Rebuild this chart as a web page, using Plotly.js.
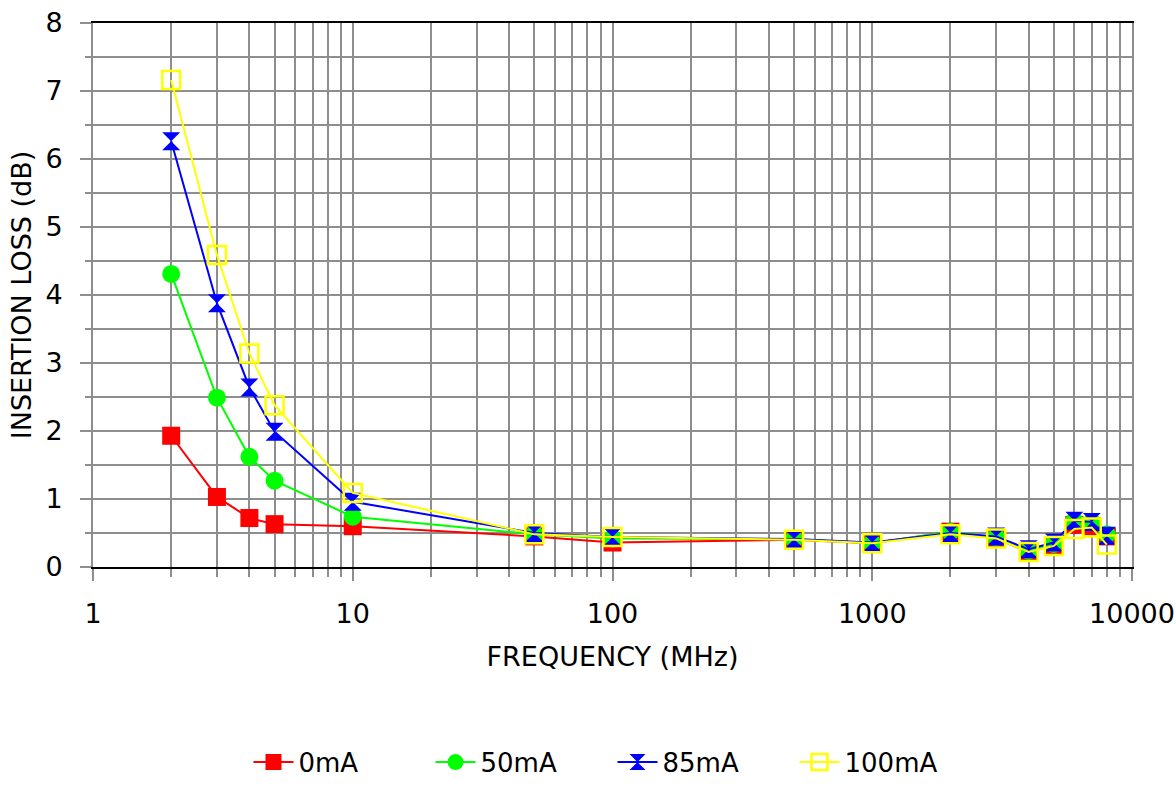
<!DOCTYPE html>
<html>
<head>
<meta charset="utf-8">
<script src="https://cdn.plot.ly/plotly-3.0.1.min.js"></script>
<style>html,body{margin:0;padding:0;background:#fff}#chart{width:1176px;height:787px}</style>
</head>
<body>
<div id="chart"></div>
<script>
// Frequency points (MHz)
var freq = [2, 3, 4, 5, 10, 50, 100, 500, 1000, 2000, 3000, 4000, 5000, 6000, 7000, 8000];
// Insertion loss (dB) per bias current
var loss0mA   = [1.93, 1.03, 0.72, 0.63, 0.60, 0.45, 0.36, 0.40, 0.35, 0.52, 0.42, 0.22, 0.32, 0.62, 0.60, 0.45];
var loss50mA  = [4.31, 2.49, 1.62, 1.27, 0.74, 0.48, 0.42, 0.41, 0.35, 0.52, 0.44, 0.24, 0.34, 0.68, 0.66, 0.48];
var loss85mA  = [6.26, 3.88, 2.64, 1.99, 0.96, 0.50, 0.44, 0.41, 0.36, 0.50, 0.45, 0.26, 0.36, 0.68, 0.66, 0.46];
var loss100mA = [7.16, 4.59, 3.14, 2.38, 1.09, 0.48, 0.44, 0.40, 0.35, 0.48, 0.42, 0.22, 0.31, 0.56, 0.58, 0.33];
var seriesNames = ['0mA', '50mA', '85mA', '100mA'];
var xTickVals = [1, 10, 100, 1000, 10000];
var xTickText = ['1', '10', '100', '1000', '10000'];
var yTickVals = [0, 1, 2, 3, 4, 5, 6, 7, 8];

var FONT = 'DejaVu Sans, Verdana, sans-serif';
var GRID = '#8e8e8e';

function tr(y, name, color, symbol, open) {
  return {
    x: freq, y: y, name: name, type: 'scatter', mode: 'lines+markers',
    line: {color: color, width: 2},
    marker: {
      symbol: symbol, size: 18,
      color: color,
      line: {color: color, width: open ? 2.5 : 0}
    }
  };
}

var data = [
  tr(loss0mA, seriesNames[0], '#ff0000', 'square', false),
  tr(loss50mA, seriesNames[1], '#00ff00', 'circle', false),
  tr(loss85mA, seriesNames[2], '#0000ff', 'hourglass', false),
  tr(loss100mA, seriesNames[3], '#ffff00', 'square-open', true)
];

var layout = {
  width: 1176, height: 787,
  margin: {l: 93, r: 44, t: 23, b: 220, autoexpand: false},
  paper_bgcolor: '#fff', plot_bgcolor: '#fff',
  font: {family: FONT, size: 27, color: '#000'},
  showlegend: true,
  legend: {
    orientation: 'h', x: 0.5, xanchor: 'center', y: -0.402, yanchor: 'bottom',
    font: {family: FONT, size: 26, color: '#000'},
    entrywidth: 127, itemwidth: 40, traceorder: 'normal'
  },
  xaxis: {
    type: 'log', range: [0, 4], automargin: false,
    tickmode: 'array', tickvals: xTickVals, ticktext: xTickText,
    ticks: 'outside', ticklen: 12, tickcolor: GRID, tickwidth: 2,
    ticklabelstandoff: 10,
    showgrid: true, gridcolor: GRID, gridwidth: 2,
    minor: {dtick: 'D1', showgrid: true, gridcolor: GRID, gridwidth: 2, ticks: 'outside', ticklen: 8, tickcolor: GRID, tickwidth: 2},
    showline: true, linecolor: '#000', linewidth: 2, mirror: true,
    zeroline: false,
    tickfont: {family: FONT, size: 27, color: '#000'},
    title: {text: 'FREQUENCY (MHz)', font: {family: FONT, size: 27, color: '#000'}, standoff: 19}
  },
  yaxis: {
    range: [0, 8], tickmode: 'array', tickvals: yTickVals, automargin: false,
    ticks: 'outside', ticklen: 11, tickcolor: GRID, tickwidth: 2,
    ticklabelstandoff: 12,
    showgrid: true, gridcolor: GRID, gridwidth: 2,
    minor: {dtick: 0.5, showgrid: true, gridcolor: GRID, gridwidth: 2, ticks: 'outside', ticklen: 6, tickcolor: GRID, tickwidth: 2},
    showline: true, linecolor: GRID, linewidth: 2, mirror: true,
    zeroline: false,
    tickfont: {family: FONT, size: 27, color: '#000'},
    title: {text: 'INSERTION LOSS (dB)', font: {family: FONT, size: 27, color: '#000'}, standoff: 6}
  }
};

Plotly.newPlot('chart', data, layout, {displayModeBar: false, staticPlot: true});
</script>
</body>
</html>
